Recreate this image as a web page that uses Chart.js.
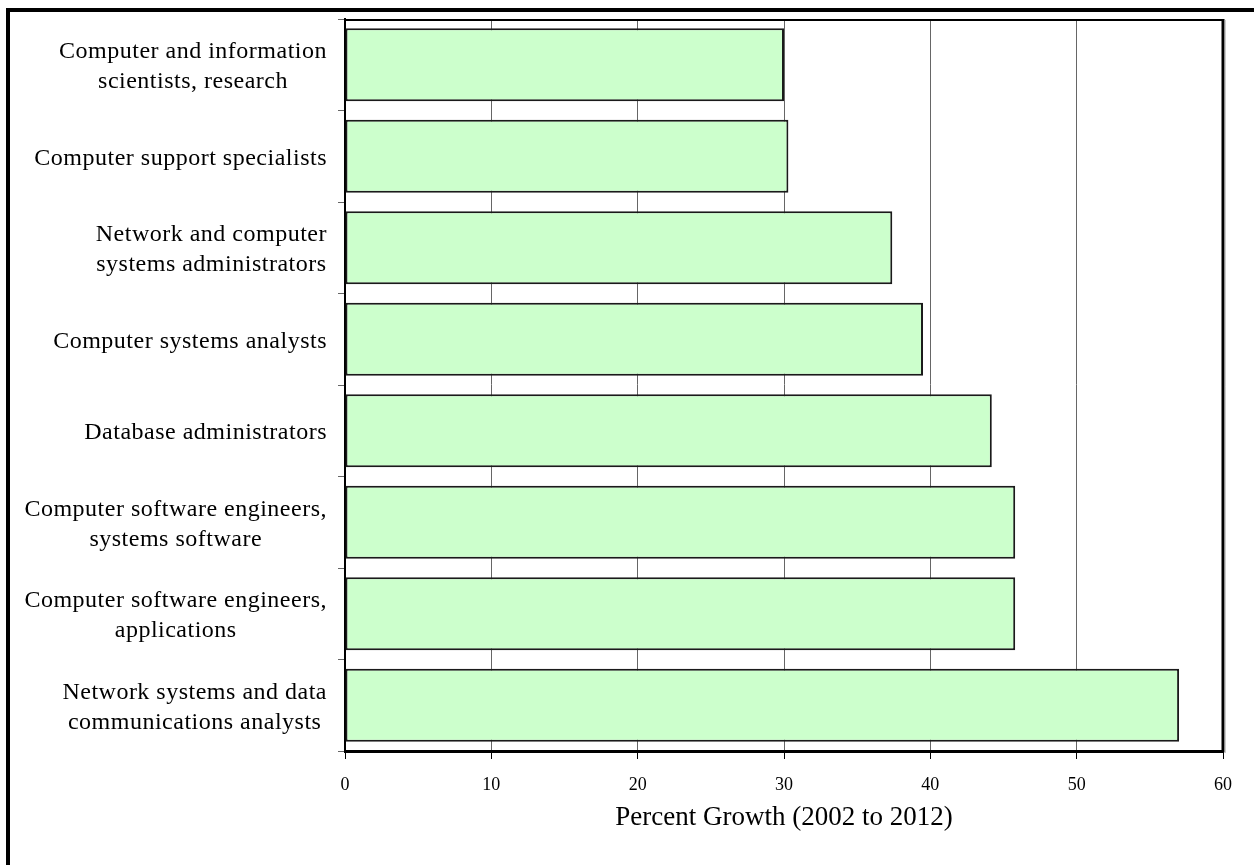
<!DOCTYPE html>
<html>
<head>
<meta charset="utf-8">
<script src="https://cdn.jsdelivr.net/npm/chart.js@4/dist/chart.umd.min.js"></script>
<style>
  html, body { margin: 0; padding: 0; background: #ffffff; }
  #wrap { width: 1254px; height: 865px; }
</style>
</head>
<body>
<div id="wrap"><canvas id="c" width="1254" height="865"></canvas></div>
<script>
// Occupations (top to bottom), each split into its display lines
const occupations = [
  ['Computer and information', 'scientists, research'],
  ['Computer support specialists'],
  ['Network and computer', 'systems administrators'],
  ['Computer systems analysts'],
  ['Database administrators'],
  ['Computer software engineers,', 'systems software'],
  ['Computer software engineers,', 'applications'],
  ['Network systems and data', 'communications analysts']
];

// Projected employment growth, percent, 2002 to 2012
const growthPercent = [30.0, 30.3, 37.4, 39.5, 44.2, 45.8, 45.8, 57.0];

// Value axis
const axisMin = 0;
const axisMax = 60;
const axisStep = 10;
const axisTitle = 'Percent Growth (2002 to 2012)';

const LABEL_FONT = '24px "Liberation Serif", serif';
const LABEL_SPACING = '0.5px';
const LABEL_LINE = 30;

// Category names, frame of the plot area and the outer page frame
const framePlugin = {
  id: 'framePlugin',
  afterDraw(chart) {
    const ctx = chart.ctx;
    const area = chart.chartArea;
    const yScale = chart.scales.y;
    ctx.save();

    // category labels: lines centred on each other, block right-aligned
    ctx.font = LABEL_FONT;
    if ('letterSpacing' in ctx) ctx.letterSpacing = LABEL_SPACING;
    ctx.fillStyle = '#000';
    ctx.textBaseline = 'middle';
    ctx.textAlign = 'center';
    const blockRight = area.left - 18;
    occupations.forEach((lines, i) => {
      const yc = yScale.getPixelForValue(i) + 2;
      const w = Math.max(...lines.map(l => ctx.measureText(l).width));
      const cx = blockRight - w / 2;
      const y0 = yc - (lines.length - 1) * LABEL_LINE / 2;
      lines.forEach((l, k) => ctx.fillText(l, cx, y0 + k * LABEL_LINE));
    });
    if ('letterSpacing' in ctx) ctx.letterSpacing = '0px';

    // plot area top and right edges
    ctx.strokeStyle = '#000';
    ctx.lineWidth = 2;
    ctx.beginPath();
    ctx.moveTo(area.left, area.top + 1);
    ctx.lineTo(area.right + 1, area.top + 1);
    ctx.stroke();
    ctx.lineWidth = 3;
    ctx.beginPath();
    ctx.moveTo(area.right, area.top);
    ctx.lineTo(area.right, area.bottom + 1);
    ctx.stroke();
    ctx.strokeStyle = '#999';
    ctx.lineWidth = 1;
    ctx.beginPath();
    ctx.moveTo(area.right + 2, area.top + 1);
    ctx.lineTo(area.right + 2, area.bottom + 2);
    ctx.stroke();

    // outer frame
    ctx.strokeStyle = '#000';
    ctx.lineWidth = 4;
    ctx.strokeRect(8, 10, 1400, 1000);
    ctx.restore();
  }
};

new Chart(document.getElementById('c'), {
  type: 'bar',
  data: {
    labels: occupations.map(l => l.join(' ')),
    datasets: [{
      data: growthPercent,
      backgroundColor: '#ccffcc',
      borderColor: '#1a1a1a',
      borderWidth: 2,
      borderSkipped: false,
      barPercentage: 0.8,
      categoryPercentage: 1.0
    }]
  },
  options: {
    indexAxis: 'y',
    responsive: false,
    devicePixelRatio: 1,
    animation: false,
    layout: { padding: { top: 19, right: 31, left: 0, bottom: 0 } },
    plugins: { legend: { display: false }, tooltip: { enabled: false } },
    scales: {
      x: {
        type: 'linear',
        min: axisMin,
        max: axisMax,
        afterFit(scale) { scale.height = 865 - 751; },
        ticks: {
          stepSize: axisStep,
          color: '#000',
          font: { family: '"Liberation Serif", serif', size: 18 },
          padding: 15
        },
        grid: {
          color: '#666',
          lineWidth: 1,
          tickLength: 8,
          tickColor: '#000',
          tickWidth: 1
        },
        border: { color: '#000', width: 3 },
        title: {
          display: true,
          text: axisTitle,
          color: '#000',
          font: { family: '"Liberation Serif", serif', size: 27 },
          padding: { top: 0, bottom: 31 }
        }
      },
      y: {
        type: 'category',
        offset: true,
        afterFit(scale) { scale.width = 345; },
        ticks: { display: false },
        grid: {
          offset: true,
          drawOnChartArea: false,
          drawTicks: true,
          tickLength: 7,
          tickColor: '#666',
          color: '#666'
        },
        border: { color: '#000', width: 2 }
      }
    }
  },
  plugins: [framePlugin]
});
</script>
</body>
</html>
